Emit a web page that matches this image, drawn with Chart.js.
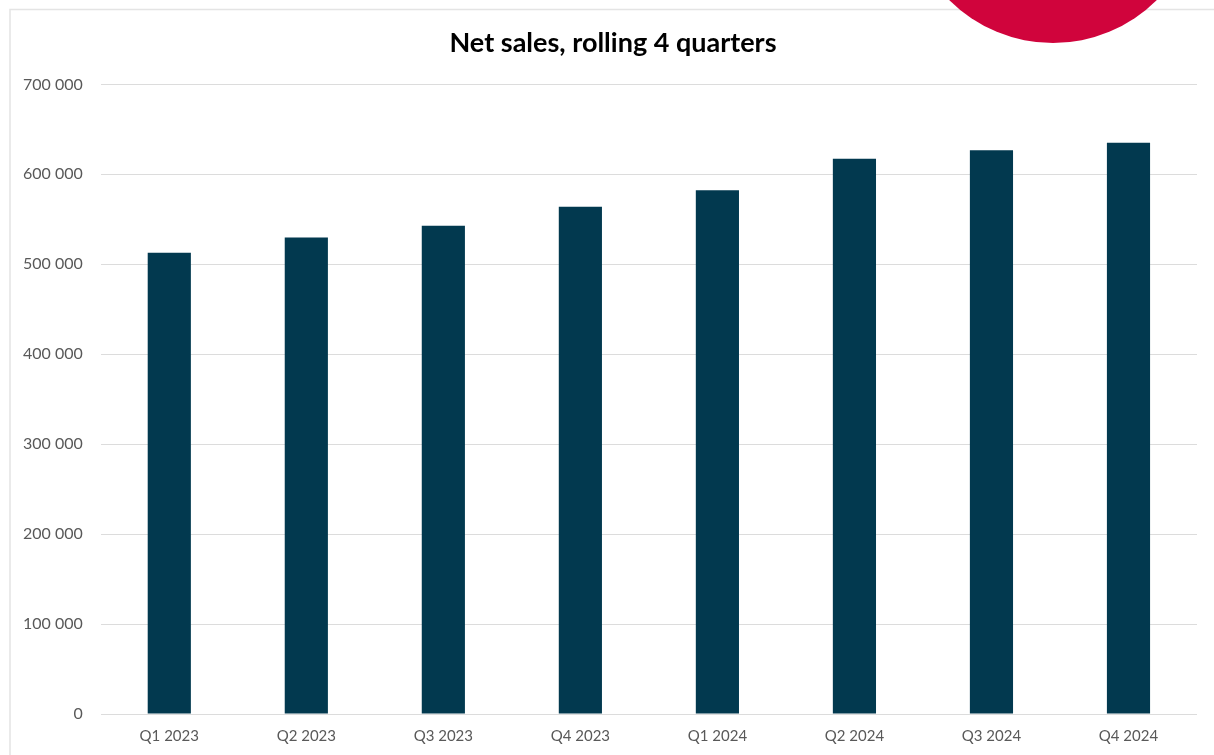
<!DOCTYPE html>
<html>
<head>
<meta charset="utf-8">
<script src="https://cdn.jsdelivr.net/npm/chart.js@4/dist/chart.umd.min.js"></script>
<style>
  html, body { margin: 0; padding: 0; background: #fff; }
  canvas { display: block; }
</style>
</head>
<body>
<canvas id="chart" width="1214" height="755"></canvas>
<script>
const quarters = ['Q1 2023', 'Q2 2023', 'Q3 2023', 'Q4 2023', 'Q1 2024', 'Q2 2024', 'Q3 2024', 'Q4 2024'];
const netSales = [512700, 529700, 542800, 563900, 582400, 617300, 626900, 635100];
const yTicks = [0, 100000, 200000, 300000, 400000, 500000, 600000, 700000];

// thin frame + red circle in the corner, title nudged to the frame centre
const decoration = {
  id: 'decoration',
  afterLayout(chart) {
    const t = chart.titleBlock;
    if (t) { t.left += 12; t.right += 12; }
  },
  beforeDraw(chart) {
    const ctx = chart.ctx;
    ctx.save();
    ctx.strokeStyle = '#e4e4e4';
    ctx.lineWidth = 1.5;
    ctx.beginPath();
    ctx.moveTo(10, 760);
    ctx.lineTo(10, 9.5);
    ctx.lineTo(1220, 9.5);
    ctx.stroke();
    ctx.fillStyle = '#d0043c';
    ctx.beginPath();
    ctx.arc(1053, -104, 147, 0, Math.PI * 2);
    ctx.fill();
    ctx.restore();
  }
};

const fmt = v => String(v).replace(/\B(?=(\d{3})+(?!\d))/g, ' ');

new Chart(document.getElementById('chart').getContext('2d'), {
  type: 'bar',
  data: {
    labels: quarters,
    datasets: [{
      label: 'Net sales',
      data: netSales,
      backgroundColor: '#02394f',
      borderWidth: 0,
      categoryPercentage: 1,
      barPercentage: 0.315
    }]
  },
  options: {
    responsive: false,
    animation: false,
    layout: { padding: { left: 5, right: 17, top: 0, bottom: 5 } },
    plugins: {
      legend: { display: false },
      tooltip: { enabled: false },
      title: {
        display: true,
        text: 'Net sales, rolling 4 quarters',
        color: '#000',
        font: { family: 'Lato', size: 27, weight: 'bold' },
        padding: { top: 27, bottom: 25 }
      }
    },
    scales: {
      x: {
        grid: { display: false },
        border: { display: false },
        ticks: {
          color: '#595959',
          font: { family: 'Lato', size: 15 },
          padding: 5
        }
      },
      y: {
        min: 0,
        max: 700000,
        afterBuildTicks: axis => { axis.ticks = yTicks.map(v => ({ value: v })); },
        grid: { color: '#dcdcdc', lineWidth: 1, drawTicks: false },
        border: { display: false },
        ticks: {
          color: '#595959',
          font: { family: 'Lato', size: 16 },
          padding: 18,
          callback: v => fmt(v)
        }
      }
    }
  },
  plugins: [decoration]
});
</script>
</body>
</html>
